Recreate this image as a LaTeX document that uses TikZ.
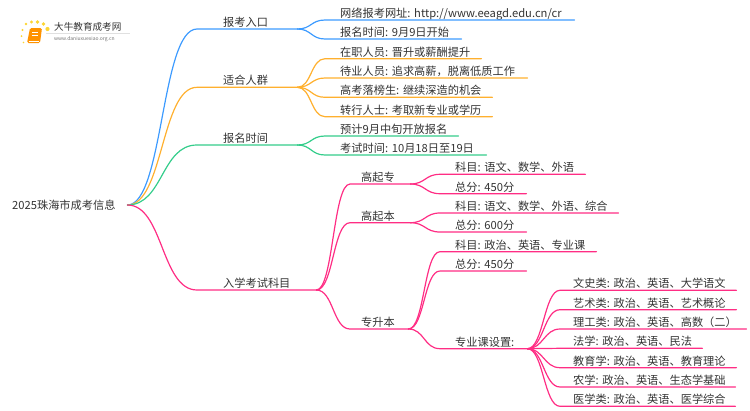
\documentclass[tikz,border=0pt]{standalone}
\usepackage{fontspec}
\setmainfont{Noto Sans CJK SC}
\usetikzlibrary{positioning}
\definecolor{lblue}{HTML}{3D9BFF}
\definecolor{lorange}{HTML}{FFB02E}
\definecolor{lgreen}{HTML}{34CD8B}
\definecolor{lpink}{HTML}{FF2D84}
\definecolor{ltext}{HTML}{333333}
\tikzset{
	topic/.style 2 args={anchor=south west,inner xsep=0pt,inner ysep=.3pt,text height=9pt,text depth=2pt,
		text width=#1,align=left,text=ltext,font=\fontsize{11.2}{13}\selectfont\frenchspacing,execute at begin node={\hspace*{#2}}},
	link/.style={line width=1.2pt,line cap=round}
}
\newcommand{\branch}[4]{\draw[link,#1] (#2) .. controls +(#4,0) and +(-#4,0) .. (#3.south west) -- (#3.south east);}
\begin{document}
\begin{tikzpicture}[x=1pt,y=-1pt]
		\useasboundingbox (0,0) rectangle (750,410);
		% logo
		\foreach \px/\py/\pr in {23.5/42.5/.9,21.5/36/1,22.5/30/1.1,26/24/1.4,31.5/22/1.6,37.5/22/1.8,43.5/24/1.9,47.5/29/2.1}
			\fill[yellow!65!orange!80] (\px,\py) circle (\pr);
		\fill[orange!85!yellow,rounded corners=1.5pt] (30,28) -- (42,28) -- (40,43) -- (27,43) -- cycle;
		\draw[white,line width=.6pt] (32,32) -- (38,32) (31.5,35) -- (37.5,35) (28.5,41) -- (39,41);
		\draw[black!12,line width=.4pt] (46,33) -- (130,33);
		\node[anchor=west,inner sep=0pt,text=ltext,font=\fontsize{9.6}{11}\selectfont] (logoname) at (54,27) {大牛教育成考网};
		\node[anchor=west,inner sep=0pt,text=black!55,font=\fontsize{5}{6}\selectfont] (logourl) at (54,38.7) {www.daniuxuexiao.org.cn};
		% root
		\node[anchor=west,inner sep=0pt,text width=115pt,align=left,text=ltext,font=\fontsize{11.2}{13}\selectfont] (root) at (12,205) {2025珠海市成考信息};
		% first level
		\node[topic={100pt}{26pt}] (a) at (197,29) {报考入口};
		\node[topic={100pt}{26pt}] (b) at (197,87.3) {适合人群};
		\node[topic={100pt}{26pt}] (c) at (197,145) {报名时间};
		\node[topic={119pt}{26pt}] (d) at (197,290) {入学考试科目};
		% blue
		\node[topic={249pt}{15pt}] (a1) at (325,20) {网络报考网址: http://www.eeagd.edu.cn/cr};
		\node[topic={136pt}{15pt}] (a2) at (325,39) {报名时间: 9月9日开始};
		% orange
		\node[topic={156pt}{15pt}] (b1) at (325,58.7) {在职人员: 晋升或薪酬提升};
		\node[topic={202pt}{15pt}] (b2) at (325,78) {待业人员: 追求高薪，脱离低质工作};
		\node[topic={167pt}{15pt}] (b3) at (325,97.3) {高考落榜生: 继续深造的机会};
		\node[topic={167pt}{15pt}] (b4) at (325,116.7) {转行人士: 考取新专业或学历};
		% green
		\node[topic={133pt}{15pt}] (c1) at (325,136) {预计9月中旬开放报名};
		\node[topic={161pt}{15pt}] (c2) at (325,155) {考试时间: 10月18日至19日};
		% pink
		\node[topic={60pt}{11pt}] (d1) at (350,184) {高起专};
		\node[topic={60pt}{11pt}] (d2) at (350,222.7) {高起本};
		\node[topic={58pt}{11pt}] (d3) at (350,329) {专升本};
		\node[topic={145pt}{15pt}] (e1) at (440,174.3) {科目: 语文、数学、外语};
		\node[topic={86pt}{15pt}] (e2) at (440,193.7) {总分: 450分};
		\node[topic={178pt}{15pt}] (f1) at (440,213) {科目: 语文、数学、外语、综合};
		\node[topic={86pt}{15pt}] (f2) at (440,232) {总分: 600分};
		\node[topic={156pt}{15pt}] (g1) at (440,251.7) {科目: 政治、英语、专业课};
		\node[topic={86pt}{15pt}] (g2) at (440,271) {总分: 450分};
		\node[topic={87pt}{15pt}] (g3) at (440,348.7) {专业课设置:};
		\node[topic={176pt}{13pt}] (h1) at (560,290.3) {文史类: 政治、英语、大学语文};
		\node[topic={176pt}{13pt}] (h2) at (560,309.7) {艺术类: 政治、英语、艺术概论};
		\node[topic={186pt}{13pt}] (h3) at (560,329) {理工类: 政治、英语、高数（二）};
		\node[topic={142pt}{13pt}] (h4) at (560,348.3) {法学: 政治、英语、民法};
		\node[topic={176pt}{13pt}] (h5) at (560,367.7) {教育学: 政治、英语、教育理论};
		\node[topic={175pt}{13pt}] (h6) at (560,387) {农学: 政治、英语、生态学基础};
		\node[topic={175pt}{13pt}] (h7) at (560,406.3) {医学类: 政治、英语、医学综合};
		% connectors
		\branch{lblue}{root.east}{a}{36}
		\branch{lorange}{root.east}{b}{36}
		\branch{lgreen}{root.east}{c}{36}
		\branch{lpink}{root.east}{d}{36}
		\foreach \kid in {a1,a2} {\branch{lblue}{a.south east}{\kid}{14}}
		\foreach \kid in {b1,b2,b3,b4} {\branch{lorange}{b.south east}{\kid}{14}}
		\foreach \kid in {c1,c2} {\branch{lgreen}{c.south east}{\kid}{14}}
		\foreach \kid in {d1,d2,d3} {\branch{lpink}{d.south east}{\kid}{17}}
		\foreach \kid in {e1,e2} {\branch{lpink}{d1.south east}{\kid}{15}}
		\foreach \kid in {f1,f2} {\branch{lpink}{d2.south east}{\kid}{15}}
		\foreach \kid in {g1,g2,g3} {\branch{lpink}{d3.south east}{\kid}{16}}
		\foreach \kid in {h1,h2,h3,h4,h5,h6,h7} {\branch{lpink}{g3.south east}{\kid}{16}}
	\end{tikzpicture}
\end{document}
